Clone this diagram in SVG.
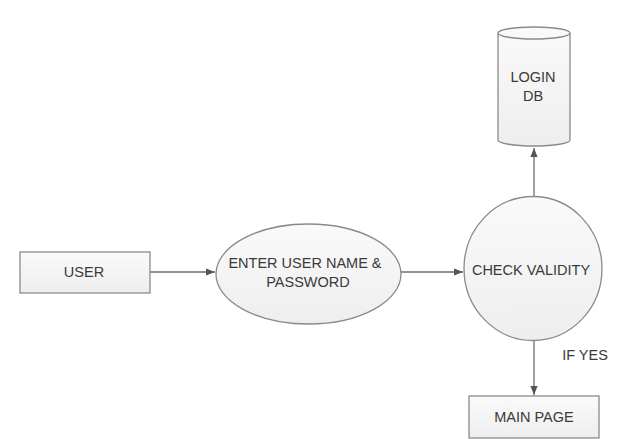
<svg xmlns="http://www.w3.org/2000/svg" width="621" height="439" viewBox="0 0 621 439">
<style>
.shape{fill:url(#g);stroke:#8a8a8a;stroke-width:1.3}
.lbl{font-family:"Liberation Sans",Arial,sans-serif;font-size:14.5px;fill:#3a3a3a;text-anchor:middle}
.conn{stroke:#6e6e6e;stroke-width:1.3;fill:none}
</style>
<defs>
<linearGradient id="g" x1="0" y1="0" x2="0" y2="1">
<stop offset="0" stop-color="#fafafa"/>
<stop offset="1" stop-color="#eeeeee"/>
</linearGradient>
<marker id="arr" viewBox="0 0 10 10" refX="10" refY="5" markerWidth="7" markerHeight="7" orient="auto">
<path d="M0,1 L10,5 L0,9 z" fill="#555"/>
</marker>
</defs>
<rect width="621" height="439" fill="#ffffff"/>
<g id="connectors">
<line class="conn" x1="150" y1="272" x2="215" y2="272" marker-end="url(#arr)"/>
<line class="conn" x1="401" y1="272" x2="463" y2="272" marker-end="url(#arr)"/>
<line class="conn" x1="534" y1="197" x2="534" y2="148" marker-end="url(#arr)"/>
<line class="conn" x1="534" y1="340" x2="534" y2="395" marker-end="url(#arr)"/>
<text class="lbl" x="585" y="360">IF YES</text>
</g>
<g id="user">
<rect class="shape" x="20" y="252" width="130" height="41"/>
<text class="lbl" x="84" y="277">USER</text>
</g>
<g id="enter">
<ellipse class="shape" cx="308.5" cy="274" rx="92.5" ry="50"/>
<text class="lbl" x="305" y="268">ENTER USER NAME &amp;</text>
<text class="lbl" x="308" y="287">PASSWORD</text>
</g>
<g id="check">
<ellipse class="shape" cx="533" cy="268.5" rx="69" ry="72"/>
<text class="lbl" x="531" y="275">CHECK VALIDITY</text>
</g>
<g id="logindb">
<path class="shape" d="M498,33 A36,6 0 0 1 570,33 L570,140 A36,6 0 0 1 498,140 Z"/>
<path d="M498,33 A36,6 0 0 0 570,33" fill="none" stroke="#8a8a8a" stroke-width="1.3"/>
<text class="lbl" x="533" y="82">LOGIN</text>
<text class="lbl" x="533" y="101">DB</text>
</g>
<g id="mainpage">
<rect class="shape" x="469" y="396" width="130" height="42"/>
<text class="lbl" x="534" y="422">MAIN PAGE</text>
</g>
</svg>
